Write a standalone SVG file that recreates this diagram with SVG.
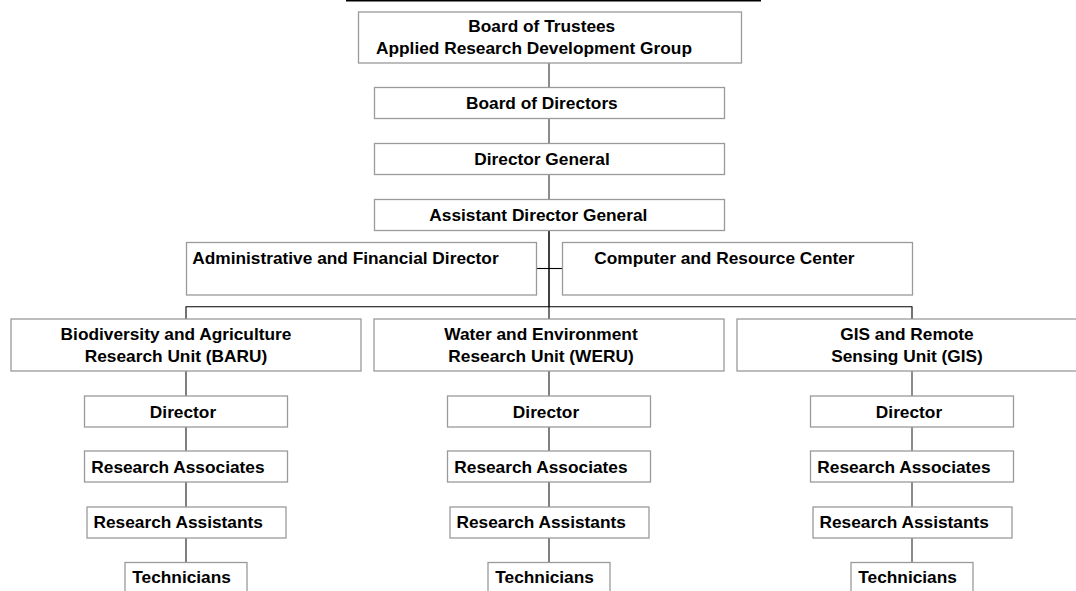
<svg xmlns="http://www.w3.org/2000/svg" width="1076" height="591" viewBox="0 0 1076 591">
<style>
  .box { fill: #ffffff; stroke: #9a9a9a; stroke-width: 1.3; }
  text { font-family: "Liberation Sans", Arial, sans-serif; font-weight: bold; font-size: 17.3px; fill: #000000; }
  .m { text-anchor: middle; }
  .c1 { stroke: #666666; stroke-width: 1.5; fill: none; }
  .c2 { stroke: #000000; stroke-width: 1.5; fill: none; }
  .c3 { stroke: #000000; stroke-width: 1.1; fill: none; }
  .c4 { stroke: #555555; stroke-width: 1.5; fill: none; }
</style>
<rect x="0" y="0" width="1076" height="591" fill="#ffffff"/>
<line x1="346" y1="0.8" x2="761" y2="0.8" stroke="#000000" stroke-width="1.6"/>

<g id="connectors">
  <line class="c1" x1="549" y1="63" x2="549" y2="87.5"/>
  <line class="c1" x1="549" y1="118.5" x2="549" y2="143.5"/>
  <line class="c1" x1="549" y1="174.5" x2="549" y2="199.5"/>
  <line class="c2" x1="549" y1="230.5" x2="549" y2="307"/>
  <line class="c3" x1="536.5" y1="268.5" x2="562.5" y2="268.5"/>
  <polyline class="c3" points="186,319 186,306.8 912,306.8 912,319"/>
  <line class="c3" x1="549" y1="306.8" x2="549" y2="319"/>
  <g id="col-conn-1">
    <line class="c4" x1="186" y1="371" x2="186" y2="396"/>
    <line class="c4" x1="186" y1="427" x2="186" y2="451"/>
    <line class="c4" x1="186" y1="482" x2="186" y2="507"/>
    <line class="c4" x1="186" y1="538" x2="186" y2="562.5"/>
  </g>
  <g id="col-conn-2">
    <line class="c4" x1="549" y1="371" x2="549" y2="396"/>
    <line class="c4" x1="549" y1="427" x2="549" y2="451"/>
    <line class="c4" x1="549" y1="482" x2="549" y2="507"/>
    <line class="c4" x1="549" y1="538" x2="549" y2="562.5"/>
  </g>
  <g id="col-conn-3">
    <line class="c1" x1="912" y1="371" x2="912" y2="396"/>
    <line class="c1" x1="912" y1="427" x2="912" y2="451"/>
    <line class="c1" x1="912" y1="482" x2="912" y2="507"/>
    <line class="c1" x1="912" y1="538" x2="912" y2="562.5"/>
  </g>
</g>

<g id="trustees">
  <rect class="box" x="358.5" y="12" width="383" height="51"/>
  <text x="468.3" y="32">Board of Trustees</text>
  <text x="376" y="54">Applied Research Development Group</text>
</g>
<g id="board-directors">
  <rect class="box" x="374.5" y="87.5" width="350" height="31"/>
  <text x="466" y="109">Board of Directors</text>
</g>
<g id="director-general">
  <rect class="box" x="374.5" y="143.5" width="350" height="31"/>
  <text x="474.3" y="165">Director General</text>
</g>
<g id="assistant-director-general">
  <rect class="box" x="374.5" y="199.5" width="350" height="31"/>
  <text x="429.3" y="221">Assistant Director General</text>
</g>
<g id="admin-financial">
  <rect class="box" x="186.5" y="242.5" width="350" height="52.5"/>
  <text x="192.3" y="264">Administrative and Financial Director</text>
</g>
<g id="computer-resource">
  <rect class="box" x="562.5" y="242.5" width="350" height="52.5"/>
  <text x="594.3" y="264">Computer and Resource Center</text>
</g>

<g id="baru">
  <rect class="box" x="11" y="319" width="350" height="52"/>
  <text class="m" x="176" y="340">Biodiversity and Agriculture</text>
  <text class="m" x="176" y="362">Research Unit (BARU)</text>
</g>
<g id="weru">
  <rect class="box" x="374" y="319" width="350" height="52"/>
  <text class="m" x="541" y="340">Water and Environment</text>
  <text class="m" x="541" y="362">Research Unit (WERU)</text>
</g>
<g id="gis">
  <rect class="box" x="737" y="319" width="350" height="52"/>
  <text class="m" x="907" y="340">GIS and Remote</text>
  <text class="m" x="907" y="362">Sensing Unit (GIS)</text>
</g>

<g id="baru-director">
  <rect class="box" x="84.5" y="396" width="203" height="31"/>
  <text class="m" x="183" y="417.5">Director</text>
</g>
<g id="baru-associates">
  <rect class="box" x="84.5" y="451" width="203" height="31"/>
  <text x="91.3" y="472.7">Research Associates</text>
</g>
<g id="baru-assistants">
  <rect class="box" x="87" y="507" width="199" height="31"/>
  <text x="93.5" y="527.5">Research Assistants</text>
</g>
<g id="baru-technicians">
  <rect class="box" x="125" y="562.5" width="122" height="40"/>
  <text x="132.3" y="582.5">Technicians</text>
</g>

<g id="weru-director">
  <rect class="box" x="447.5" y="396" width="203" height="31"/>
  <text class="m" x="546" y="417.5">Director</text>
</g>
<g id="weru-associates">
  <rect class="box" x="447.5" y="451" width="203" height="31"/>
  <text x="454.3" y="472.7">Research Associates</text>
</g>
<g id="weru-assistants">
  <rect class="box" x="450" y="507" width="199" height="31"/>
  <text x="456.5" y="527.5">Research Assistants</text>
</g>
<g id="weru-technicians">
  <rect class="box" x="488" y="562.5" width="122" height="40"/>
  <text x="495.3" y="582.5">Technicians</text>
</g>

<g id="gis-director">
  <rect class="box" x="810.5" y="396" width="203" height="31"/>
  <text class="m" x="909" y="417.5">Director</text>
</g>
<g id="gis-associates">
  <rect class="box" x="810.5" y="451" width="203" height="31"/>
  <text x="817.3" y="472.7">Research Associates</text>
</g>
<g id="gis-assistants">
  <rect class="box" x="813" y="507" width="199" height="31"/>
  <text x="819.5" y="527.5">Research Assistants</text>
</g>
<g id="gis-technicians">
  <rect class="box" x="851" y="562.5" width="122" height="40"/>
  <text x="858.3" y="582.5">Technicians</text>
</g>
</svg>
